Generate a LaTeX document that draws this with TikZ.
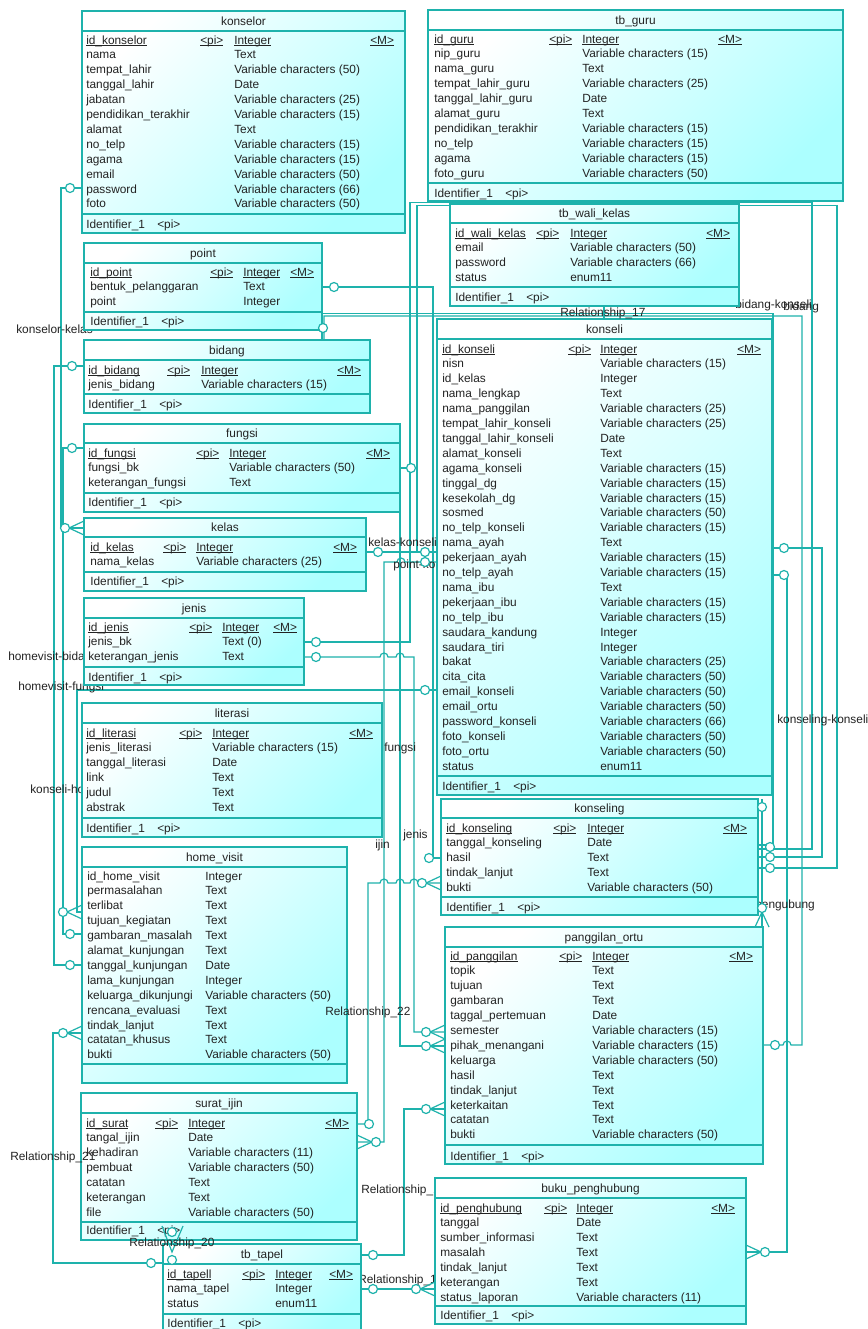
\documentclass[tikz,border=0pt]{standalone}
\usepackage{fontspec}
\setmainfont{Liberation Sans}
\usetikzlibrary{fit}
\definecolor{ln}{RGB}{30,178,172}
\definecolor{fillc}{RGB}{172,255,255}
\definecolor{txt}{RGB}{35,35,35}
\newcommand{\fs}{\fontsize{8.9}{10}\selectfont}
\newcommand{\ulx}[1]{\setbox0\hbox{#1}\rlap{\rule[-1.4pt]{\wd0}{0.5pt}}\box0}
\tikzset{
  conn/.style={draw=ln,line width=0.9pt},
  mk/.style={draw=ln,fill=white,line width=0.9pt},
  lbl/.style={font=\fs,text=txt,inner sep=0,anchor=west},
  cell/.style={font=\fs,text=txt,inner sep=0,anchor=base west},
}
\newcommand{\erdef}[5]{\node[fit={(#2,#3)(#4,#5)},inner sep=0,outer sep=0] (#1) {};}
\newcommand{\erbox}[7]{%
  \shade[left color=white,right color=fillc,shading angle=45] (#1,#2) rectangle (#3,#4);
  \draw[draw=ln,line width=1pt] (#1,#2) rectangle (#3,#4) (#1,#5) -- (#3,#5) (#1,#6) -- (#3,#6);
  \node[font=\fs,text=txt,inner sep=0,anchor=base] at ({(#1+#3)/2},{(#2+#5)/2+4}) {#7};}
\newcommand{\pk}[7]{%
  \node[cell] at (#2,#1+4) {\ulx{#3}};
  \node[cell] at (#4,#1+4) {\ulx{<pi>}};
  \node[cell] at (#5,#1+4) {\ulx{#6}};
  \node[cell] at (#7,#1+4) {\ulx{<M>}};}
\newcommand{\rows}[4]{\foreach \nm/\ty [count=\i from 1] in {#4} {%
  \node[cell] at (#1,#3+\i*14.9+4) {\nm};
  \node[cell] at (#2,#3+\i*14.9+4) {\ty};}}
\newcommand{\ident}[2]{\node[cell] at (#1,#2+4) {Identifier\_1}; \node[cell] at (#1+71,#2+4) {<pi>};}
\newcommand{\cW}[2]{\draw[mk] (#1-12,#2) circle[radius=4.5];}
\newcommand{\cE}[2]{\draw[mk] (#1+12,#2) circle[radius=4.5];}
\newcommand{\cN}[2]{\draw[mk] (#1,#2-12) circle[radius=4.5];}
\newcommand{\fW}[2]{\draw[conn] (#1-15,#2) -- (#1,#2-7) (#1-15,#2) -- (#1,#2+7); \draw[mk] (#1-19,#2) circle[radius=4.5];}
\newcommand{\fE}[2]{\draw[conn] (#1+15,#2) -- (#1,#2-7) (#1+15,#2) -- (#1,#2+7); \draw[mk] (#1+19,#2) circle[radius=4.5];}
\newcommand{\fN}[2]{\draw[conn] (#1,#2-15) -- (#1-7,#2) (#1,#2-15) -- (#1+7,#2); \draw[mk] (#1,#2-19) circle[radius=4.5];}
\begin{document}
\begin{tikzpicture}[x=0.75pt,y=-0.75pt]
\useasboundingbox (0,0) rectangle (868,1329);
\fill[white] (0,0) rectangle (868,1329);
% ---------- node definitions
\erdef{konselor}{82}{11}{405}{233}
\erdef{tbguru}{428}{10}{843}{201}
\erdef{wali}{450}{204}{739}{306}
\erdef{point}{84}{243}{322}{330}
\erdef{bidang}{84}{340}{370}{413}
\erdef{fungsi}{84}{424}{400}{512}
\erdef{kelas}{84}{518}{366}{591}
\erdef{jenis}{84}{598}{304}{685}
\erdef{literasi}{82}{703}{382}{837}
\erdef{homevisit}{82}{847}{347}{1083}
\erdef{suratijin}{81}{1093}{357}{1240}
\erdef{tapel}{163}{1244}{361}{1336}
\erdef{konseli}{437}{319}{772}{795}
\erdef{konseling}{441}{799}{758}{915}
\erdef{panggilan}{445}{927}{763}{1164}
\erdef{buku}{435}{1178}{746}{1324}
% ---------- connectors
\draw[conn] (konselor.west|-0,188) -| (61,528) -- (kelas.west|-0,528);
\draw[conn] (bidang.west|-0,366) -| (54,965) -- (homevisit.west|-0,965);
\draw[conn] (fungsi.west|-0,448) -| (63,934) -- (homevisit.west|-0,934);
\draw[conn] (konseli.west|-0,690) -| (77,912) -- (homevisit.west|-0,912);
\draw[conn] (tapel.west|-0,1263) -| (53,1033) -- (homevisit.west|-0,1033);
\draw[conn] (kelas.east|-0,552) -- (konseli.west|-0,552);
\draw[conn] (kelas.east|-0,552) -- (417,552) -- (417,205.5) -- (837,205.5) -- (837,868) -- (konseling.east|-0,868);
\draw[conn] (point.east|-0,287) -| (433,858) -- (konseling.west|-0,858);
\draw[conn] (konseli.west|-0,562) -- (405,562) arc[start angle=0,end angle=-180,radius=4] -- (384,562) -- (384,1142) -- (suratijin.east|-0,1142);
\draw[conn] (suratijin.east|-0,1124) -| (368,883) -- (380,883) arc[start angle=180,end angle=360,radius=4] -- (396,883) arc[start angle=180,end angle=360,radius=4] -- (410,883) arc[start angle=180,end angle=360,radius=4] -- (konseling.west|-0,883);
\draw[conn] (fungsi.south east) -- (400,1046) -- (panggilan.west|-0,1046);
\draw[conn] (fungsi.east|-0,468) -- (410,468);
\draw[conn] (jenis.east|-0,657) -- (380,657) arc[start angle=180,end angle=360,radius=4] -- (396,657) arc[start angle=180,end angle=360,radius=4] -- (414,657) -- (414,1032) -- (panggilan.west|-0,1032);
\draw[conn] (jenis.east|-0,642) -- (410,642) -- (410,202.5) -- (812,202.5) -- (812,849) -- (konseling.east|-0,849);
\draw[conn] (bidang.north-|322,0) -- (322,313.5) -- (773,313.5) -- (773,845) -- (konseling.east|-0,845);
\draw[conn] (bidang.north-|324,0) -- (324,316) -- (802,316) -- (802,1045) -- (791,1045) arc[start angle=0,end angle=-180,radius=4] -- (panggilan.east|-0,1045);
\draw[conn] (konseli.east|-0,548) -- (822,548) -- (822,857) -- (konseling.east|-0,857);
\draw[conn] (konseli.east|-0,575) -- (787,575) -- (787,1252) -- (buku.east|-0,1252);
\draw[conn] (konseling.north-|762,0) -- (panggilan.north-|762,0);
\draw[conn] (tapel.east|-0,1255) -| (404,1109) -- (panggilan.west|-0,1109);
\draw[conn] (tapel.east|-0,1289) -- (buku.west|-0,1289);
\draw[conn] (wali.south-|604,0) -- (konseli.north-|604,0);
% ---------- labels under boxes
\node[lbl] at (16,329) {konselor-kelas};
\node[lbl] at (8,657) {homevisit-bidang};
\node[lbl] at (18,687) {homevisit-fungsi};
\node[lbl] at (30,790) {konseli-home\_visit};
\node[lbl] at (393,565) {point-konseling};
\node[lbl] at (361,1190) {Relationship\_18};
\node[lbl] at (358,1280) {Relationship\_19};
\node[lbl,anchor=east] at (815,905) {konseli-pengubung};
\node[lbl] at (735,305) {bidang-konseli};
% ---------- boxes
\erbox{82}{11}{405}{233}{31}{214}{konselor}
\pk{40}{86}{id\_konselor}{200}{234}{Integer}{370}
\rows{86}{234}{40}{nama/Text, tempat\_lahir/Variable characters (50), tanggal\_lahir/Date, jabatan/Variable characters (25), pendidikan\_terakhir/Variable characters (15), alamat/Text, no\_telp/Variable characters (15), agama/Variable characters (15), email/Variable characters (50), password/Variable characters (66), foto/Variable characters (50)}
\ident{86}{224}
\erbox{428}{10}{843}{201}{30}{183}{tb\_guru}
\pk{39}{434}{id\_guru}{549}{582}{Integer}{718}
\rows{434}{582}{39}{nip\_guru/Variable characters (15), nama\_guru/Text, tempat\_lahir\_guru/Variable characters (25), tanggal\_lahir\_guru/Date, alamat\_guru/Text, pendidikan\_terakhir/Variable characters (15), no\_telp/Variable characters (15), agama/Variable characters (15), foto\_guru/Variable characters (50)}
\ident{434}{193}
\erbox{450}{204}{739}{306}{223}{287}{tb\_wali\_kelas}
\pk{233}{455}{id\_wali\_kelas}{536}{570}{Integer}{706}
\rows{455}{570}{233}{email/Variable characters (50), password/Variable characters (66), status/enum11}
\ident{455}{297}
\erbox{84}{243}{322}{330}{263}{312}{point}
\pk{272}{90}{id\_point}{210}{243}{Integer}{290}
\rows{90}{243}{272}{bentuk\_pelanggaran/Text, point/Integer}
\ident{90}{321}
\erbox{84}{340}{370}{413}{360}{394}{bidang}
\pk{370}{88}{id\_bidang}{167}{201}{Integer}{337}
\rows{88}{201}{370}{jenis\_bidang/Variable characters (15)}
\ident{88}{404}
\erbox{84}{424}{400}{512}{443}{493}{fungsi}
\pk{453}{88}{id\_fungsi}{196}{229}{Integer}{366}
\rows{88}{229}{453}{fungsi\_bk/Variable characters (50), keterangan\_fungsi/Text}
\ident{88}{502}
\erbox{84}{518}{366}{591}{537}{572}{kelas}
\pk{547}{90}{id\_kelas}{163}{196}{Integer}{333}
\rows{90}{196}{547}{nama\_kelas/Variable characters (25)}
\ident{90}{581}
\erbox{84}{598}{304}{685}{618}{667}{jenis}
\pk{627}{88}{id\_jenis}{189}{222}{Integer}{273}
\rows{88}{222}{627}{jenis\_bk/Text (0), keterangan\_jenis/Text}
\ident{88}{677}
\erbox{82}{703}{382}{837}{723}{818}{literasi}
\pk{733}{86}{id\_literasi}{179}{212}{Integer}{349}
\rows{86}{212}{733}{jenis\_literasi/Variable characters (15), tanggal\_literasi/Date, link/Text, judul/Text, abstrak/Text}
\ident{86}{828}
\erbox{82}{847}{347}{1083}{867}{1064}{home\_visit}
\rows{87}{205}{861.1}{id\_home\_visit/Integer, permasalahan/Text, terlibat/Text, tujuan\_kegiatan/Text, gambaran\_masalah/Text, alamat\_kunjungan/Text, tanggal\_kunjungan/Date, lama\_kunjungan/Integer, keluarga\_dikunjungi/Variable characters (50), rencana\_evaluasi/Text, tindak\_lanjut/Text, catatan\_khusus/Text, bukti/Variable characters (50)}
\erbox{81}{1093}{357}{1240}{1113}{1222}{surat\_ijin}
\pk{1123}{86}{id\_surat}{155}{188}{Integer}{325}
\rows{86}{188}{1123}{tangal\_ijin/Date, kehadiran/Variable characters (11), pembuat/Variable characters (50), catatan/Text, keterangan/Text, file/Variable characters (50)}
\ident{86}{1230}
\erbox{163}{1244}{361}{1336}{1264}{1314}{tb\_tapel}
\pk{1274}{167}{id\_tapell}{242}{275}{Integer}{329}
\rows{167}{275}{1274}{nama\_tapel/Integer, status/enum11}
\ident{167}{1323}
\erbox{437}{319}{772}{795}{339}{776}{konseli}
\pk{349}{442}{id\_konseli}{568}{600}{Integer}{737}
\rows{442}{600}{349}{nisn/Variable characters (15), id\_kelas/Integer, nama\_lengkap/Text, nama\_panggilan/Variable characters (25), tempat\_lahir\_konseli/Variable characters (25), tanggal\_lahir\_konseli/Date, alamat\_konseli/Text, agama\_konseli/Variable characters (15), tinggal\_dg/Variable characters (15), kesekolah\_dg/Variable characters (15), sosmed/Variable characters (50), no\_telp\_konseli/Variable characters (15), nama\_ayah/Text, pekerjaan\_ayah/Variable characters (15), no\_telp\_ayah/Variable characters (15), nama\_ibu/Text, pekerjaan\_ibu/Variable characters (15), no\_telp\_ibu/Variable characters (15), saudara\_kandung/Integer, saudara\_tiri/Integer, bakat/Variable characters (25), cita\_cita/Variable characters (50), email\_konseli/Variable characters (50), email\_ortu/Variable characters (50), password\_konseli/Variable characters (66), foto\_konseli/Variable characters (50), foto\_ortu/Variable characters (50), status/enum11}
\ident{442}{786}
\erbox{441}{799}{758}{915}{818}{897}{konseling}
\pk{828}{446}{id\_konseling}{553}{587}{Integer}{723}
\rows{446}{587}{828}{tanggal\_konseling/Date, hasil/Text, tindak\_lanjut/Text, bukti/Variable characters (50)}
\ident{446}{907}
\erbox{445}{927}{763}{1164}{947}{1145}{panggilan\_ortu}
\pk{956}{450}{id\_panggilan}{559}{592}{Integer}{729}
\rows{450}{592}{956}{topik/Text, tujuan/Text, gambaran/Text, taggal\_pertemuan/Date, semester/Variable characters (15), pihak\_menangani/Variable characters (15), keluarga/Variable characters (50), hasil/Text, tindak\_lanjut/Text, keterkaitan/Text, catatan/Text, bukti/Variable characters (50)}
\ident{450}{1156}
\erbox{435}{1178}{746}{1324}{1198}{1306}{buku\_penghubung}
\pk{1208}{440}{id\_penghubung}{544}{576}{Integer}{711}
\rows{440}{576}{1208}{tanggal/Date, sumber\_informasi/Text, masalah/Text, tindak\_lanjut/Text, keterangan/Text, status\_laporan/Variable characters (11)}
\ident{440}{1315}
% ---------- markers
\cW{82}{188} \fW{84}{528}
\cW{84}{366} \cW{82}{965}
\cW{84}{448} \cW{82}{934}
\cW{437}{690} \fW{82}{912}
\cW{163}{1263} \fW{82}{1033}
\cE{366}{552} \cW{437}{552}
\cE{322}{287} \cW{441}{858}
\cW{437}{562} \fE{357}{1142}
\cE{357}{1124} \fW{441}{883}
\fW{445}{1046}
\cE{304}{657} \fW{445}{1032}
\cE{304}{642} \cE{758}{847}
\draw[mk] (411,468) circle[radius=4.5];
\cE{758}{868}
\cN{323}{340}
\cE{763}{1045}
\cE{772}{548} \cE{758}{857}
\cE{772}{575} \fE{746}{1252}
\draw[mk] (762,807) circle[radius=4.5];
\fN{762}{927}
\cE{361}{1255} \fW{445}{1109}
\cE{361}{1289} \fW{435}{1289}
\draw[conn] (suratijin.south-|172,0) -- (tapel.north-|172,0);
\draw[conn] (162,1226) -- (172,1252) -- (183,1226);
\draw[mk] (172,1232) circle[radius=4.5];
\draw[mk] (172,1260) circle[radius=4.5];
% ---------- labels on top
\node[lbl] at (10,1157) {Relationship\_21};
\node[lbl] at (325,1012) {Relationship\_22};
\node[lbl] at (129,1243) {Relationship\_20};
\node[lbl] at (560,313) {Relationship\_17};
\node[lbl] at (368,542) {kelas-konseli};
\node[lbl] at (375,845) {ijin};
\node[lbl] at (384,748) {fungsi};
\node[lbl] at (403,835) {jenis};
\node[lbl] at (777,720) {konseling-konseli};
\node[lbl] at (783,307) {bidang};
\end{tikzpicture}
\end{document}
